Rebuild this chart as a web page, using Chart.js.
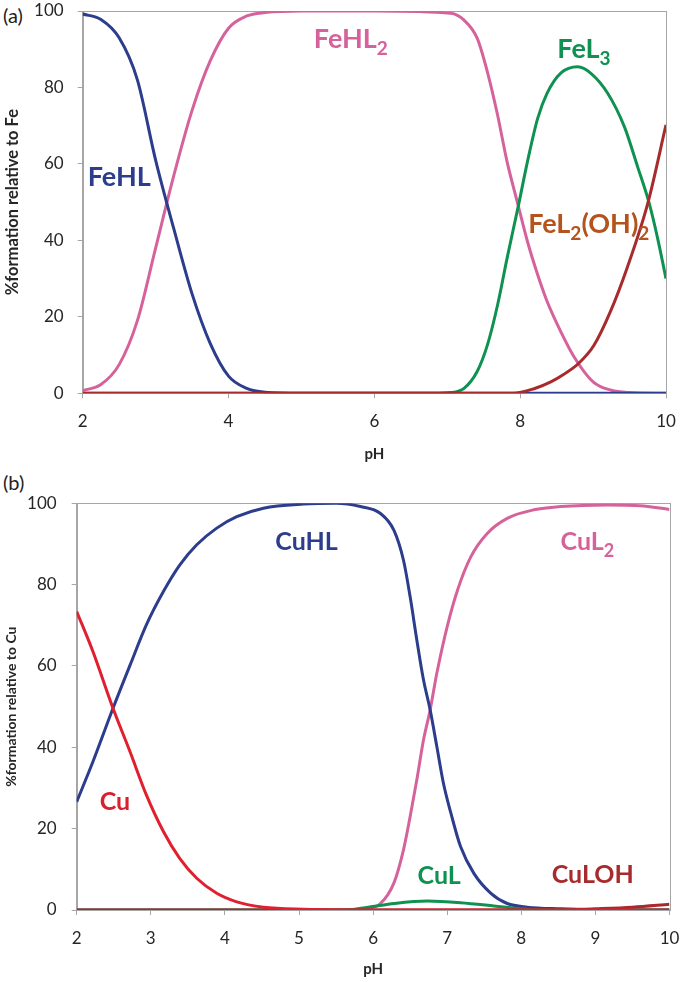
<!DOCTYPE html>
<html>
<head>
<meta charset="utf-8">
<script src="https://cdn.jsdelivr.net/npm/chart.js@4.4.1/dist/chart.umd.min.js"></script>
<style>
  html, body { margin: 0; padding: 0; background: #fff; }
  body { width: 683px; height: 982px; position: relative; overflow: hidden; }
  .panel { position: absolute; left: 0; }
  .tag { position: absolute; left: 3px; font: 20px Lato, sans-serif; line-height: 20px; color: #222; }
</style>
</head>
<body>
<div class="tag" style="top:5px">(a)</div>
<div class="tag" style="top:472px">(b)</div>
<canvas id="feChart" class="panel" style="top:0" width="683" height="465"></canvas>
<canvas id="cuChart" class="panel" style="top:465px" width="683" height="517"></canvas>
<script>
// pH / % formation pairs
const feHL = [[2,99.2],[2.25,97.8],[2.5,93],[2.75,82],[3,61],[3.25,43],[3.5,26],[3.75,13],[4,4.5],[4.25,1.3],[4.5,0.3],[5,0],[6,0],[7,0],[8,0],[9,0],[10,0]];
const feHL2 = [[2,0.7],[2.25,2.3],[2.5,7.5],[2.75,19],[3,38],[3.25,57],[3.5,74],[3.75,87],[4,95.5],[4.25,98.7],[4.5,99.6],[5,100],[6,100],[7.05,99.4],[7.23,97.6],[7.41,92.9],[7.55,84.1],[7.69,72.8],[7.82,60.6],[7.96,50.1],[8.1,39.7],[8.24,31],[8.37,24],[8.56,16],[8.74,9.5],[9.0,3],[9.25,0.8],[9.5,0.2],[10,0]];
const feL3 = [[2,0],[6.8,0],[7.05,0.2],[7.23,1.3],[7.41,5.7],[7.55,12.6],[7.69,23.1],[7.82,35.3],[7.98,49.5],[8.1,60.6],[8.24,71.9],[8.37,78.5],[8.56,83.8],[8.79,85.4],[8.97,83.7],[9.2,78.5],[9.43,69.7],[9.61,59.3],[9.77,49.7],[9.88,41],[10,30]];
const feL2OH2 = [[2,0],[7.9,0],[8.19,1.2],[8.42,3],[8.6,5],[8.8,7.8],[9.01,12.5],[9.24,21.5],[9.47,33],[9.75,49.7],[10,70.2]];

const cu = [[2,73.4],[2.22,63.5],[2.49,49.6],[2.72,38.9],[2.94,28.3],[3.17,19.3],[3.39,12.7],[3.62,7.8],[3.89,4.1],[4.16,2],[4.52,0.7],[5.06,0.2],[6,0],[7,0],[8,0],[9,0],[10,0]];
const cuHL = [[2,26.6],[2.22,36.5],[2.49,49.6],[2.72,60.2],[2.94,70.1],[3.17,78.3],[3.39,84.8],[3.62,89.8],[3.89,93.9],[4.16,96.7],[4.52,98.8],[5.06,99.8],[5.5,100],[5.83,99.2],[6.1,97.5],[6.28,93.4],[6.41,86],[6.5,77],[6.59,66.4],[6.68,56.6],[6.77,49.2],[6.86,40.2],[6.95,31.1],[7.05,23.8],[7.18,15.6],[7.36,9],[7.59,4.1],[7.81,1.6],[8.08,0.7],[8.53,0.3],[9,0.1],[10,0]];
const cuL2 = [[2,0],[5.5,0],[5.92,0.4],[6.1,1.6],[6.28,6.6],[6.41,14.8],[6.5,23],[6.59,32],[6.68,41.8],[6.77,49.2],[6.86,58.2],[7,69.7],[7.14,78.7],[7.32,86.9],[7.54,92.6],[7.81,96.3],[8.17,98.4],[8.53,99.2],[9.16,99.6],[9.6,99.4],[10,98.5]];
const cuL = [[2,0],[5.6,0],[6.05,1],[6.28,1.6],[6.73,2.2],[7.18,1.8],[7.63,1],[7.99,0.3],[8.4,0],[10,0]];
const cuLOH = [[2,0],[8.5,0],[9,0.3],[9.5,0.7],[10,1.4]];

const feTicks = [2, 4, 6, 8, 10];
const cuTicks = [2, 3, 4, 5, 6, 7, 8, 9, 10];

const NAVY = '#2b3d8c', PINK = '#d6629b', GREEN = '#0f9152', BROWN = '#a72a2c', RED = '#e01f2f', AXIS = '#a6a6a6', TEXT = '#262626';

Chart.defaults.font.family = 'Lato, "Open Sans", sans-serif';
Chart.defaults.color = TEXT;

function series(label, pairs, color, order) {
    return {
        label: label,
        data: pairs.map(p => ({ x: p[0], y: p[1] })),
        borderColor: color,
        borderWidth: 3,
        pointRadius: 0,
        fill: false,
        cubicInterpolationMode: 'monotone',
        order: order
    };
}

// frame round the plot area (top and right edges)
const framePlugin = {
    id: 'frame',
    beforeDatasetsDraw(chart) {
        const a = chart.chartArea;
        const ctx = chart.ctx;
        ctx.save();
        ctx.strokeStyle = AXIS;
        ctx.lineWidth = 1;
        ctx.strokeRect(Math.round(a.left) + 0.5, Math.round(a.top) + 0.5, Math.round(a.right - a.left), Math.round(a.bottom - a.top));
        ctx.restore();
    }
};

// species names with subscripts, placed in data coordinates
const labelPlugin = {
    id: 'speciesLabels',
    afterDatasetsDraw(chart, args, opts) {
        const ctx = chart.ctx;
        const x = chart.scales.x, y = chart.scales.y;
        opts.items.forEach(item => {
            let px = x.getPixelForValue(item.at[0]);
            const py = y.getPixelForValue(item.at[1]);
            ctx.save();
            ctx.fillStyle = item.color;
            ctx.textBaseline = 'alphabetic';
            ctx.textAlign = 'left';
            item.parts.forEach(part => {
                const sub = part[1];
                ctx.font = 'bold ' + (sub ? opts.subSize : opts.size) + 'px Lato, sans-serif';
                ctx.fillText(part[0], px, sub ? py + opts.subShift : py);
                px += ctx.measureText(part[0]).width;
            });
            ctx.restore();
        });
    }
};

function makeScales(o) {
    return {
        x: {
            type: 'linear', min: 2, max: 10,
            afterBuildTicks: s => { s.ticks = o.xTicks.map(v => ({ value: v })); },
            afterFit: s => { s.height = o.xHeight; s.paddingLeft = 0; s.paddingRight = 0; },
            ticks: { font: { size: 17 }, padding: o.xPad, color: TEXT },
            grid: { drawOnChartArea: false, tickLength: 5, color: AXIS },
            border: { color: AXIS },
            title: { display: true, text: 'pH', font: { size: 15, weight: 'bold' }, padding: { top: 0, bottom: o.xTitlePad }, color: TEXT }
        },
        y: {
            min: 0, max: 100,
            ticks: { stepSize: 20, font: { size: 17 }, padding: o.yPad, color: TEXT },
            afterFit: s => { s.width = o.yWidth; s.paddingTop = 0; s.paddingBottom = 0; },
            grid: { drawOnChartArea: false, tickLength: 5, color: AXIS },
            border: { color: AXIS },
            title: { display: true, text: o.yTitle, font: { size: o.yTitleSize, weight: 'bold' }, padding: { top: o.yTitlePad, bottom: 0 }, color: TEXT }
        }
    };
}

new Chart(document.getElementById('feChart'), {
    type: 'line',
    data: {
        datasets: [
            series('FeL2(OH)2', feL2OH2, BROWN, 1),
            series('FeHL', feHL, NAVY, 2),
            series('FeL3', feL3, GREEN, 3),
            series('FeHL2', feHL2, PINK, 4)
        ]
    },
    options: {
        responsive: false,
        animation: false,
        layout: { padding: { left: 0, right: 17, top: 11, bottom: 0 } },
        scales: makeScales({ xTicks: feTicks, xHeight: 71.7, xPad: 13, xTitlePad: 2, yPad: 14, yWidth: 82.7, yTitle: '%formation relative to Fe', yTitleSize: 16.5, yTitlePad: 3 }),
        plugins: {
            legend: { display: false },
            tooltip: { enabled: false },
            speciesLabels: {
                size: 27, subSize: 19, subShift: 7,
                items: [
                    { parts: [['FeHL']], at: [2.07, 54.1], color: NAVY },
                    { parts: [['FeHL'], ['2', true]], at: [5.17, 90.3], color: PINK },
                    { parts: [['FeL'], ['3', true]], at: [8.51, 87.7], color: GREEN },
                    { parts: [['FeL'], ['2', true], ['(OH)'], ['2', true]], at: [8.11, 41.9], color: '#b5531d' }
                ]
            }
        }
    },
    plugins: [framePlugin, labelPlugin]
});

new Chart(document.getElementById('cuChart'), {
    type: 'line',
    data: {
        datasets: [
            series('Cu', cu, RED, 1),
            series('CuLOH', cuLOH, BROWN, 2),
            series('CuL', cuL, GREEN, 3),
            series('CuHL', cuHL, NAVY, 4),
            series('CuL2', cuL2, PINK, 5)
        ]
    },
    options: {
        responsive: false,
        animation: false,
        layout: { padding: { left: 0, right: 13.5, top: 38.3, bottom: 0 } },
        scales: makeScales({ xTicks: cuTicks, xHeight: 72, xPad: 13, xTitlePad: 3.5, yPad: 15, yWidth: 76.7, yTitle: '%formation relative to Cu', yTitleSize: 14, yTitlePad: 3 }),
        plugins: {
            legend: { display: false },
            tooltip: { enabled: false },
            speciesLabels: {
                size: 25, subSize: 18, subShift: 7,
                items: [
                    { parts: [['Cu']], at: [2.31, 24.6], color: '#d9202f' },
                    { parts: [['CuHL']], at: [4.68, 88.5], color: NAVY },
                    { parts: [['CuL'], ['2', true]], at: [8.53, 88.5], color: PINK },
                    { parts: [['CuL']], at: [6.6, 6.3], color: GREEN },
                    { parts: [['CuLOH']], at: [8.41, 6.6], color: BROWN }
                ]
            }
        }
    },
    plugins: [framePlugin, labelPlugin]
});
</script>
</body>
</html>
